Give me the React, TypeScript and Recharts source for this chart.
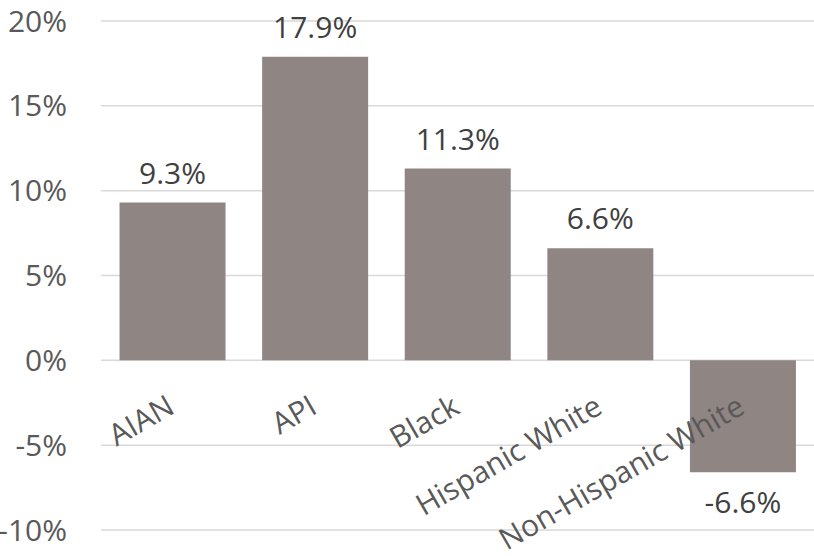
import React from "react";
import {
  BarChart,
  Bar,
  XAxis,
  YAxis,
  CartesianGrid,
  LabelList,
} from "recharts";

const categories = ["AIAN", "API", "Black", "Hispanic White", "Non-Hispanic White"];
const changeValues = [9.3, 17.9, 11.3, 6.6, -6.6];
const yTicks = [-10, -5, 0, 5, 10, 15, 20];

const data = categories.map((name, i) => ({ name, value: changeValues[i] }));

const W = 814;
const H = 556;
const TOP = 21;
const BOTTOM = 25;
const Y_MIN = -10;
const Y_MAX = 20;
const PLOT_H = H - TOP - BOTTOM - 1;
// y pixel of the 0% line, category labels hang off it
const ZERO_Y = TOP + (PLOT_H * Y_MAX) / (Y_MAX - Y_MIN);

const FONT = "'Open Sans', sans-serif";

function CategoryTick(props: any) {
  const { x, payload } = props;
  const ax = x + 4;
  const ay = ZERO_Y + 52;
  return (
    <text
      x={ax}
      y={ay}
      textAnchor="end"
      transform={`rotate(-30, ${ax}, ${ay})`}
      fill="#595959"
      fontSize={30}
      fontFamily={FONT}
    >
      {payload.value}
    </text>
  );
}

function ValueLabel(props: any) {
  const { x, y, width, height, value } = props;
  const top = Math.min(y, y + height);
  const bottom = Math.max(y, y + height);
  const cx = x + width / 2;
  const ty = value >= 0 ? top - 19 : bottom + 41;
  return (
    <text
      x={cx}
      y={ty}
      textAnchor="middle"
      fill="#404040"
      fontSize={30}
      fontFamily={FONT}
    >
      {`${value}%`}
    </text>
  );
}

export default function App() {
  return (
    <div
      style={{
        position: "absolute",
        left: 0,
        top: 0,
        width: W,
        height: H,
        overflow: "hidden",
        background: "#fff",
      }}
    >
      <BarChart
        width={W}
        height={H}
        data={data}
        margin={{ top: TOP, right: 0, left: 0, bottom: BOTTOM }}
        barCategoryGap="13%"
      >
        <CartesianGrid vertical={false} stroke="#D9D9D9" strokeWidth={1.5} />
        <XAxis
          dataKey="name"
          height={1}
          axisLine={false}
          tickLine={false}
          interval={0}
          tick={<CategoryTick />}
        />
        <YAxis
          width={101}
          domain={[Y_MIN, Y_MAX]}
          ticks={yTicks}
          axisLine={false}
          tickLine={false}
          tickSize={0}
          tickMargin={34}
          tickFormatter={(v) => `${v}%`}
          tick={{ fill: "#595959", fontSize: 30, fontFamily: FONT }}
        />
        <Bar dataKey="value" fill="#8F8583" isAnimationActive={false}>
          <LabelList dataKey="value" content={<ValueLabel />} />
        </Bar>
      </BarChart>
    </div>
  );
}
